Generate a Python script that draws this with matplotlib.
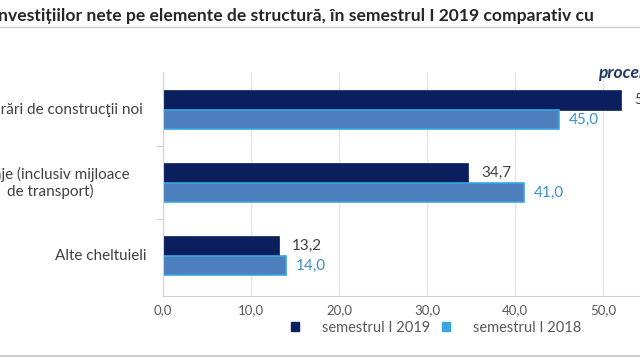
import matplotlib
matplotlib.use("Agg")
import matplotlib.pyplot as plt
import matplotlib.transforms as mtransforms
from matplotlib.lines import Line2D
from matplotlib.patches import Patch

plt.rcParams['font.family'] = ['Lato', 'DejaVu Sans']

categories = ["Lucrări de construcţii noi", "Utilaje (inclusiv mijloace\nde transport)", "Alte cheltuieli"]
series_names = ["semestrul I 2019", "semestrul I 2018"]
values_2019 = [52.1, 34.7, 13.2]
values_2018 = [45.0, 41.0, 14.0]
xticks = [0, 10, 20, 30, 40, 50]

navy = "#0b1f5e"
steel = "#4d7fbf"
cyan = "#38a6e0"
grey_txt = "#595959"

fig = plt.figure(figsize=(6.4, 3.6), dpi=100)
# axes area runs past the right edge, like the cropped original
ax = fig.add_axes([163/640, 1 - 296/360, 528/640, 224/360])

ypos = list(range(len(categories)))
h = 0.267
ax.barh([y - h/2 for y in ypos], values_2019, height=h, color=navy, edgecolor=navy, linewidth=0.5)
ax.barh([y + h/2 for y in ypos], values_2018, height=h, color=steel, edgecolor=cyan, linewidth=1.2)

for y, v in zip(ypos, values_2019):
    ax.annotate(f"{v:.1f}".replace('.', ','), (v, y - h/2), xytext=(9, 0), textcoords='offset points',
                va='center', ha='left', fontsize=11, color="#404040")
for y, v in zip(ypos, values_2018):
    ax.annotate(f"{v:.1f}".replace('.', ','), (v, y + h/2), xytext=(7, 0), textcoords='offset points',
                va='center', ha='left', fontsize=11, color="#3a8fcc")

ax.set_xlim(0, 60)
ax.set_ylim(2.55, -0.52)
ax.set_xticks(xticks)
ax.set_xticklabels([f"{t:.1f}".replace('.', ',') for t in xticks], fontsize=9.5, color=grey_txt)
ax.tick_params(axis='x', length=0, pad=6)
ax.set_yticks([0.5, 1.5])
ax.set_yticklabels([])
ax.tick_params(axis='y', length=5, color="#d0d0d0", direction='out')
ax.grid(axis='x', color="#e3e3e3", linewidth=0.8)
ax.set_axisbelow(True)
for s in ['top', 'right']:
    ax.spines[s].set_visible(False)
ax.spines['left'].set_color("#d0d0d0")
ax.spines['bottom'].set_color("#d0d0d0")

# category labels, centred lines, placed left of the axis
trans = mtransforms.blended_transform_factory(fig.transFigure, ax.transData)
label_x = [60/640, 50/640, 101/640]
for y, lab, lx in zip(ypos, categories, label_x):
    ax.text(lx, y, lab, transform=trans, ha='center', va='center', multialignment='center',
            fontsize=11, color="#404040")

fig.text(-0.003, 1 - 16/360, "nvestițiilor nete pe elemente de structură, în semestrul I 2019 comparativ cu",
         ha='left', va='center', fontsize=12.6, fontweight='bold', color="#262626")
fig.text(598/640, 1 - 73/360, "procente", ha='left', va='center', fontsize=12.5,
         fontweight='bold', fontstyle='italic', color="#1f3864")

# frame lines of the original chart box
fig.add_artist(Line2D([0, 1], [1 - 27/360, 1 - 27/360], color="#cfcfcf", linewidth=1))
fig.add_artist(Line2D([0, 1], [1 - 356/360, 1 - 356/360], color="#cfcfcf", linewidth=1.5))

handles = [Patch(color=navy), Patch(color=cyan)]
fig.legend(handles, series_names, loc='center', bbox_to_anchor=(436/640, 1 - 328/360), ncol=2,
           frameon=False, fontsize=10.5, handlelength=0.55, handleheight=0.55, columnspacing=0.8,
           handletextpad=1.6, labelcolor=grey_txt)

fig.savefig("out.png", dpi=100)
